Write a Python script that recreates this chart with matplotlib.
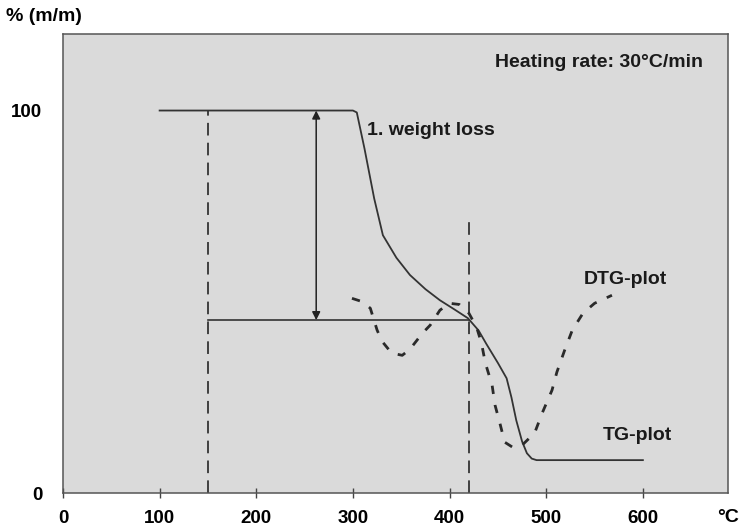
import numpy as np
import matplotlib.pyplot as plt

plt.rcParams['font.family'] = ['Liberation Sans', 'DejaVu Sans']

# TG-kurve (°C, % m/m)
tg_temp = [100, 300, 304, 312, 322, 331, 345, 359, 375, 390, 405, 419,
           430, 438, 450, 459, 464, 469, 475, 480, 485, 490, 600]
tg_mass = [100, 100, 99.5, 90, 77, 67.4, 61.5, 57, 53.3, 50.4, 48, 45.7,
           42.5, 39, 34, 30, 25, 19, 13.5, 10.4, 9.0, 8.6, 8.6]

# DTG-kurve (willkürliche Skala)
dtg_temp = [299, 310, 318, 325, 330, 340, 351, 359, 372, 380, 390, 400,
            410, 420, 428, 433, 437, 444, 447, 452, 457, 465, 475, 488,
            496, 506, 511, 519, 527, 538, 550, 568]
dtg_val = [50.9, 50.0, 48.3, 42.6, 39.7, 36.6, 36.0, 37.6, 41.8, 43.9, 47.8, 49.6,
           49.3, 47.0, 43.3, 39.2, 34.0, 28.2, 23.0, 18.3, 13.3, 12.0, 12.5, 15.7,
           21.0, 26.9, 31.6, 37.3, 42.6, 47.0, 49.6, 51.7]

x_ticks = [0, 100, 200, 300, 400, 500, 600]
y_ticks = [0, 100]

t_start = 150
t_end = 420
m_end = 45.2
t_arrow = 262

fig = plt.figure(figsize=(7.4, 5.26), dpi=100)
ax = fig.add_axes([0.0851, 0.0627, 0.8986, 0.8726])
ax.set_facecolor('#dadada')

ax.plot(tg_temp, tg_mass, color='#333333', lw=1.3, zorder=3)
ax.plot(dtg_temp, dtg_val, color='#2a2a2a', lw=2.0,
        dashes=(3, 4), zorder=3)

# Hilfslinien
ax.plot([t_start, t_start], [0, 100], color='#333333', lw=1.3, dashes=(7, 4))
ax.plot([t_end, t_end], [0, 72], color='#333333', lw=1.3, dashes=(7, 4))
ax.plot([t_start, t_end], [m_end, m_end], color='#333333', lw=1.2)

ax.annotate('', xy=(t_arrow, 100), xytext=(t_arrow, m_end),
            arrowprops=dict(arrowstyle='<|-|>', color='#222222', lw=1.1,
                            mutation_scale=12, shrinkA=0, shrinkB=0))

fs = 14
ax.text(315, 94.8, '1. weight loss', fontsize=fs, fontweight='bold',
        color='#1a1a1a', va='center', ha='left')
ax.text(662, 112.5, 'Heating rate: 30°C/min', fontsize=fs, fontweight='bold',
        color='#1a1a1a', va='center', ha='right')
ax.text(539, 55.8, 'DTG-plot', fontsize=fs, fontweight='bold',
        color='#1a1a1a', va='center', ha='left')
ax.text(558, 15.1, 'TG-plot', fontsize=fs, fontweight='bold',
        color='#1a1a1a', va='center', ha='left')

ax.set_xlim(0, 688)
ax.set_ylim(0, 120)
ax.set_xticks(x_ticks)
ax.set_yticks(y_ticks)
ax.tick_params(axis='x', direction='inout', length=7, width=1.0,
               colors='#444444', labelcolor='black', labelsize=13.5, pad=9)
ax.tick_params(axis='y', length=0, labelsize=13.5, pad=15)
for lab in ax.get_xticklabels() + ax.get_yticklabels():
    lab.set_fontweight('bold')
for sp in ax.spines.values():
    sp.set_color('#555555')
    sp.set_linewidth(1.1)

fig.text(0.008, 0.968, '% (m/m)', fontsize=fs, fontweight='bold',
         va='center', ha='left')
fig.text(0.998, 0.017, '°C', fontsize=fs, fontweight='bold',
         va='center', ha='right')

fig.savefig('out.png', dpi=100)
